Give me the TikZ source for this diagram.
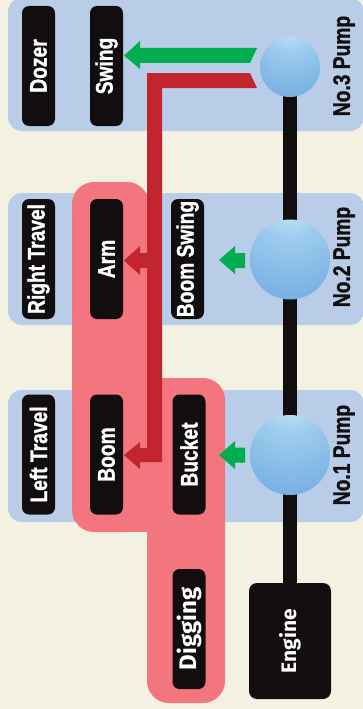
\documentclass[tikz,border=0pt]{standalone}
\usepackage{fontspec}
\newfontfamily\lblfont{Liberation Sans}[UprightFont={* Bold}, BoldFont={* Bold}, FakeStretch=0.8, FakeBold=1.2]
\newfontfamily\engfont{Fira Sans}
\definecolor{bgc}{HTML}{F3F1E1}
\definecolor{panelc}{HTML}{B9CDE9}
\definecolor{pinkc}{HTML}{F3757E}
\definecolor{redc}{HTML}{C3252F}
\definecolor{greenc}{HTML}{00AD4F}
\definecolor{blk}{HTML}{120E0F}
\definecolor{hl}{HTML}{C6E8F8}
\definecolor{midb}{HTML}{9CCBEE}
\definecolor{bodyb}{HTML}{7EB5E5}
\definecolor{edgeb}{HTML}{5E9CD6}
\definecolor{darkb}{HTML}{5390CC}
\pgfdeclareradialshading{pumpball}{\pgfpoint{0bp}{40bp}}{color(0bp)=(hl); color(4bp)=(hl); color(20bp)=(midb); color(42bp)=(bodyb); color(66bp)=(edgeb); color(90bp)=(darkb); color(100bp)=(darkb)}
\pgfdeclarelayer{back}
\pgfdeclarelayer{mid}
\pgfsetlayers{back,mid,main}
\begin{document}
\begin{tikzpicture}[x=1pt,y=-1pt,
  lbl/.style={rotate=90, fill=blk, text=white, rounded corners=7pt,
    minimum width=120pt, minimum height=33pt, inner sep=0pt,
    font=\lblfont\fontsize{24}{24}\selectfont},
  diglbl/.style={lbl, font=\engfont\bfseries\fontsize{24}{24}\selectfont},
  pumplbl/.style={rotate=90, text=blk, inner sep=0pt,
    font=\lblfont\fontsize{24}{24}\selectfont},
  pump/.style={circle, inner sep=0pt, shade, shading=pumpball},
  panel/.style={fill=panelc, rounded corners=14pt},
  zone/.style={fill=pinkc}
]
\useasboundingbox (0,0) rectangle (363,709);
\begin{pgfonlayer}{back}
  \fill[bgc] (0,0) rectangle (363,709);
  \fill[panel] (8,-2) rectangle (364,131);
  \fill[panel] (8,193) rectangle (364,325);
  \fill[panel] (8,390) rectangle (364,522);
  \fill[zone, rounded corners=22pt] (72,182) rectangle (149,532);
  \fill[zone] (110,330) rectangle (149,532);
  \fill[zone, rounded corners=22pt] (147,378) rectangle (225,703);
  \fill[zone] (147,378) rectangle (185,420);
\end{pgfonlayer}

% red flow
\fill[redc] (250,73) -- (147,73) -- (147,253) -- (140,253) -- (140,246)
  -- (124,260.5) -- (140,275) -- (140,268) -- (147,268) -- (147,448)
  -- (140,448) -- (140,442) -- (124,455) -- (140,469) -- (140,462)
  -- (162,462) -- (162,88) -- (257,88) -- cycle;
% green flows
\fill[greenc] (257,48) -- (140,48) -- (140,41) -- (124,55.5) -- (140,69)
  -- (140,63) -- (250,63) -- cycle;
\fill[greenc] (245,253) -- (235,253) -- (235,246) -- (219,260) -- (235,274)
  -- (235,268) -- (245,268) -- cycle;
\fill[greenc] (245,447.5) -- (235,447.5) -- (235,441) -- (219,455) -- (235,469)
  -- (235,462.5) -- (245,462.5) -- cycle;

% pumps
\node[pump, minimum size=60pt] (p3) at (290,67) {};
\node[pump, minimum size=80pt] (p2) at (290,259.5) {};
\node[pump, minimum size=80pt] (p1) at (290,455) {};

% engine
\node[rotate=90, fill=blk, text=white, rounded corners=8pt,
  minimum width=116pt, minimum height=82pt, inner sep=0pt,
  font=\engfont\bfseries\fontsize{21}{21}\selectfont] (eng) at (290,641) {Engine};

\begin{pgfonlayer}{mid}
  \draw[blk, line width=14pt] (p3.center) -- (eng.center);
\end{pgfonlayer}

% actuators
\node[lbl] (dozer) at (38.5,66) {Dozer};
\node[lbl] (swing) at (106.5,66) {Swing};
\node[lbl] (rtravel) at (38.5,259) {Right Travel};
\node[lbl] (arm) at (106.5,259) {Arm};
\node[lbl] (bswing) at (187.5,259) {Boom Swing};
\node[lbl] (ltravel) at (38.5,454.5) {Left Travel};
\node[lbl] (boom) at (106.5,454.5) {Boom};
\node[lbl] (bucket) at (189,454.5) {Bucket};
\node[diglbl] (dig) at (189,629) {Digging};

% pump labels
\node[pumplbl] (pl3) at (344,66) {No.3 Pump};
\node[pumplbl] (pl2) at (344,257) {No.2 Pump};
\node[pumplbl] (pl1) at (344,455) {No.1 Pump};
\end{tikzpicture}
\end{document}
